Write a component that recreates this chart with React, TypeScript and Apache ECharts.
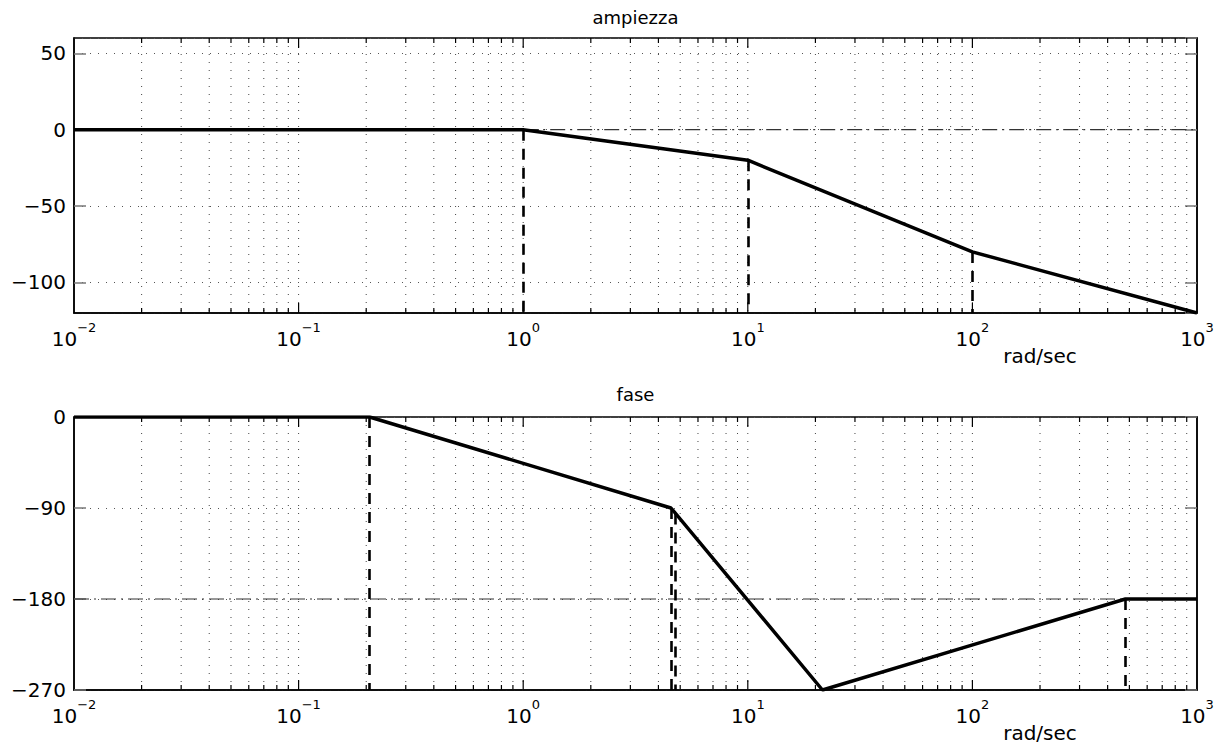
import React, { useEffect, useRef } from "react";
import * as echarts from "echarts";

// ---- axis structure ----
const xMin = 0.01;
const xMax = 1000;
const decades = [0.01, 0.1, 1, 10, 100, 1000];
const multipliers = [1, 2, 3, 4, 5, 6, 7, 8, 9];

// ---- magnitude plot ("ampiezza") ----
const magMin = -120;
const magMax = 60;
const magTicks = [-100, -50, 0, 50];
const magCurve = [
  [0.01, 0],
  [1, 0],
  [10, -20],
  [100, -80],
  [1000, -120],
];
const magDrops = [
  [1, 0],
  [10, -20],
  [100, -80],
];
const magRef = [
  [1, 0],
  [1000, 0],
];

// ---- phase plot ("fase") ----
const phaseMin = -270;
const phaseMax = 0;
const phaseInterval = 90;
const phaseCurve = [
  [0.01, 0],
  [0.207, 0],
  [4.55, -90],
  [21.5, -270],
  [480, -180],
  [1000, -180],
];
const phaseDrops = [
  [0.207, 0],
  [4.55, -90],
  [4.77, -95.5],
  [480, -180],
];
const phaseRef = [
  [0.01, -180],
  [480, -180],
];

const FONT = "DejaVu Sans";

const gridX: number[] = [];
decades.forEach((d) =>
  multipliers.forEach((m) => {
    const v = d * m;
    if (v > xMin * 1.0001 && v < xMax * 0.9999) gridX.push(+v.toPrecision(6));
  })
);

const renderGridX = (params: any, api: any) => {
  const cs = params.coordSys;
  const v = api.value(0);
  const x = api.coord([v, api.value(1)])[0];
  const lg = Math.log10(v);
  const major = Math.abs(lg - Math.round(lg)) < 1e-6;
  const t = major ? 10 : 5;
  const yb = cs.y + cs.height;
  return {
    type: "group",
    children: [
      {
        type: "line",
        shape: { x1: x, y1: cs.y, x2: x, y2: yb },
        style: { stroke: "#444", lineWidth: 1, lineDash: [1, 7] },
      },
      {
        type: "line",
        shape: { x1: x, y1: yb, x2: x, y2: yb - t },
        style: { stroke: "#000", lineWidth: 1.2 },
      },
      {
        type: "line",
        shape: { x1: x, y1: cs.y, x2: x, y2: cs.y + t },
        style: { stroke: "#000", lineWidth: 1.2 },
      },
    ],
  };
};

const minus = (v: number) => String(v).replace("-", "\u2212");

const xAxisCfg = (gridIndex: number) => ({
  type: "log",
  logBase: 10,
  gridIndex,
  min: xMin,
  max: xMax,
  axisLine: { show: true, onZero: false, lineStyle: { color: "#000", width: 1.5 } },
  axisTick: { show: false },
  splitLine: { show: false },
  minorTick: { show: false },
  axisLabel: {
    margin: 8,
    showMinLabel: true,
    showMaxLabel: true,
    formatter: (v: number) => {
      const e = Math.round(Math.log10(v));
      return `{b|10}{s|${minus(e)}}`;
    },
    rich: {
      b: { fontSize: 20, fontFamily: FONT, color: "#000", lineHeight: 28, verticalAlign: "bottom" },
      s: { fontSize: 13, fontFamily: FONT, color: "#000", lineHeight: 12, verticalAlign: "top" },
    },
  },
});

const yAxisCfg = (gridIndex: number, min: number, max: number, extra: any, right: boolean, ticks?: number[]) => ({
  type: "value",
  gridIndex,
  min,
  max,
  position: right ? "right" : "left",
  ...extra,
  axisLine: { show: true, onZero: false, lineStyle: { color: "#000", width: 1.5 } },
  axisTick: { show: true, inside: true, length: 12, lineStyle: { color: "#777", width: 1.5 } },
  splitLine: right
    ? { show: false }
    : { show: true, lineStyle: { color: "#555", width: 1, type: [1, 7] } },
  axisLabel: right
    ? { show: false }
    : {
        margin: 8,
        fontSize: 20,
        fontFamily: FONT,
        color: "#000",
        showMinLabel: ticks ? false : true,
        showMaxLabel: ticks ? false : true,
        formatter: (v: number) => (ticks && ticks.indexOf(v) < 0 ? "" : minus(v)),
      },
});

const dropLines = (pts: number[][], bottom: number) =>
  pts.map(([x, y]) => [{ coord: [x, y] }, { coord: [x, bottom] }]);

export default function App() {
  const ref = useRef<HTMLDivElement>(null);
  useEffect(() => {
    if (!ref.current) return;
    const chart = echarts.init(ref.current, undefined, { renderer: "svg" });
    const textEl = (text: string, x: number, y: number, size: number) => ({
      type: "text",
      x,
      y,
      silent: true,
      style: { text, fontSize: size, fontFamily: FONT, fill: "#000", align: "center", verticalAlign: "middle" },
    });
    const refStyle = { color: "#333", width: 1.2, type: [15, 5, 2, 5] };
    chart.setOption({
      animation: false,
      backgroundColor: "#fff",
      grid: [
        { left: 74, top: 38, width: 1123, height: 275, show: true, borderColor: "#000", borderWidth: 1.5, containLabel: false },
        { left: 74, top: 417, width: 1123, height: 273, show: true, borderColor: "#000", borderWidth: 1.5, containLabel: false },
      ],
      xAxis: [xAxisCfg(0), xAxisCfg(1)],
      yAxis: [
        yAxisCfg(0, magMin, magMax, { splitNumber: 4 }, false, magTicks),
        yAxisCfg(1, phaseMin, phaseMax, { interval: phaseInterval }, false),
        yAxisCfg(0, magMin, magMax, { splitNumber: 4 }, true),
        yAxisCfg(1, phaseMin, phaseMax, { interval: phaseInterval }, true),
      ],
      graphic: [
        textEl("ampiezza", 635.5, 17, 18),
        textEl("fase", 635.5, 394, 18),
        textEl("rad/sec", 1040, 356, 20),
        textEl("rad/sec", 1040, 733, 20),
      ],
      series: [
        {
          type: "custom",
          xAxisIndex: 0,
          yAxisIndex: 0,
          renderItem: renderGridX,
          data: gridX.map((v) => [v, 0]),
          silent: true,
          z: 1,
        },
        {
          type: "custom",
          xAxisIndex: 1,
          yAxisIndex: 1,
          renderItem: renderGridX,
          data: gridX.map((v) => [v, -90]),
          silent: true,
          z: 1,
        },
        {
          type: "line",
          xAxisIndex: 0,
          yAxisIndex: 0,
          data: magRef,
          symbol: "none",
          silent: true,
          lineStyle: refStyle,
          z: 2,
        },
        {
          type: "line",
          xAxisIndex: 1,
          yAxisIndex: 1,
          data: phaseRef,
          symbol: "none",
          silent: true,
          lineStyle: refStyle,
          z: 2,
        },
        {
          type: "line",
          name: "ampiezza",
          xAxisIndex: 0,
          yAxisIndex: 0,
          data: magCurve,
          symbol: "none",
          silent: true,
          lineStyle: { color: "#000", width: 3.5 },
          z: 4,
          markLine: {
            silent: true,
            symbol: ["none", "none"],
            label: { show: false },
            lineStyle: { color: "#000", width: 2.6, type: [11, 8] },
            data: dropLines(magDrops, magMin),
          },
        },
        {
          type: "line",
          name: "fase",
          xAxisIndex: 1,
          yAxisIndex: 1,
          data: phaseCurve,
          symbol: "none",
          silent: true,
          lineStyle: { color: "#000", width: 3.5 },
          z: 4,
          markLine: {
            silent: true,
            symbol: ["none", "none"],
            label: { show: false },
            lineStyle: { color: "#000", width: 2.6, type: [11, 8] },
            data: dropLines(phaseDrops, phaseMin),
          },
        },
      ],
    });
    return () => chart.dispose();
  }, []);
  return (
    <div
      ref={ref}
      style={{ position: "absolute", left: 0, top: 0, width: 1223, height: 744, background: "#fff" }}
    />
  );
}
